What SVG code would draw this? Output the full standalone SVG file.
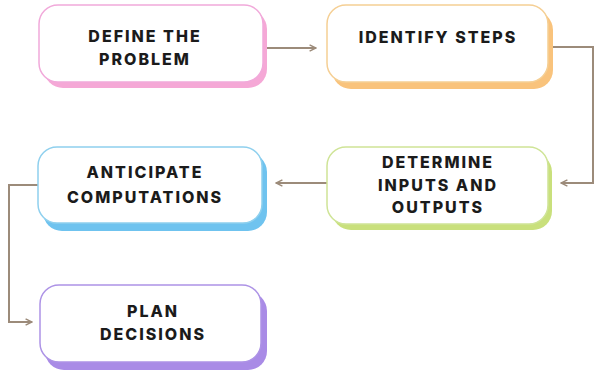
<svg xmlns="http://www.w3.org/2000/svg" width="600" height="373" viewBox="0 0 600 373">
<defs>
<style>
.lbl{font-family:Inter,"Noto Sans",sans-serif;font-weight:800;font-size:16px;letter-spacing:2px;fill:#1b1b1b;text-anchor:middle}
.front{fill:#ffffff;stroke-width:1.5}
.conn{fill:none;stroke:#9c8b7a;stroke-width:2}
</style>
<marker id="ah" viewBox="0 0 10 10" refX="9" refY="5" markerWidth="8" markerHeight="8" markerUnits="userSpaceOnUse" orient="auto">
<path d="M1,1 L9,5 L1,9" fill="none" stroke="#9c8b7a" stroke-width="1.8"/>
</marker>
</defs>
<rect width="600" height="373" fill="#ffffff"/>
<g id="connectors">
<path class="conn" d="M267,48 H316" marker-end="url(#ah)"/>
<path class="conn" d="M553,47 H593 V183 H561" marker-end="url(#ah)"/>
<path class="conn" d="M327,183 H276" marker-end="url(#ah)"/>
<path class="conn" d="M38,185 H9 V322 H32" marker-end="url(#ah)"/>
</g>
<g id="node-define">
<rect x="44" y="10" width="223" height="78" rx="19" fill="#f5a8d6"/>
<rect class="front" x="39" y="5" width="224" height="77" rx="19" stroke="#f1a9da"/>
<text class="lbl" x="145" y="42">DEFINE THE</text>
<text class="lbl" x="145" y="65">PROBLEM</text>
</g>
<g id="node-identify">
<rect x="332" y="11" width="221" height="78" rx="19" fill="#f9c37c"/>
<rect class="front" x="327" y="5" width="221" height="77" rx="19" stroke="#f5cf94"/>
<text class="lbl" x="438" y="43">IDENTIFY STEPS</text>
</g>
<g id="node-determine">
<rect x="332" y="153" width="220" height="77" rx="19" fill="#c9e07c"/>
<rect class="front" x="327" y="147" width="221" height="77" rx="19" stroke="#cfe497"/>
<text class="lbl" x="438" y="168">DETERMINE</text>
<text class="lbl" x="438" y="191">INPUTS AND</text>
<text class="lbl" x="438" y="213">OUTPUTS</text>
</g>
<g id="node-anticipate">
<rect x="43" y="153" width="224" height="78" rx="19" fill="#6fc3ef"/>
<rect class="front" x="38" y="147" width="224" height="76" rx="19" stroke="#8fd0ee"/>
<text class="lbl" x="145" y="178">ANTICIPATE</text>
<text class="lbl" x="145" y="203">COMPUTATIONS</text>
</g>
<g id="node-plan">
<rect x="45" y="292" width="222" height="78" rx="19" fill="#a98be6"/>
<rect class="front" x="40" y="285" width="221" height="77" rx="19" stroke="#ad93e6"/>
<text class="lbl" x="153" y="317">PLAN</text>
<text class="lbl" x="153" y="340">DECISIONS</text>
</g>
</svg>
